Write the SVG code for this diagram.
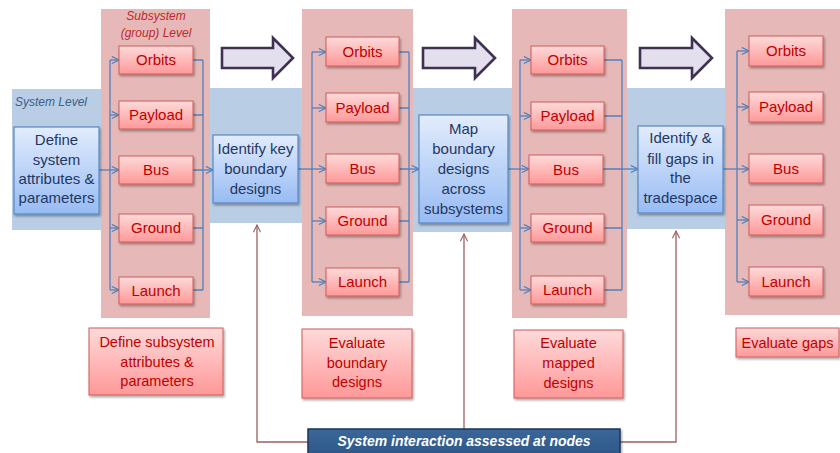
<svg xmlns="http://www.w3.org/2000/svg" width="840" height="453" viewBox="0 0 840 453">
  <defs>
    <linearGradient id="gRed" x1="0" y1="0" x2="0" y2="1">
      <stop offset="0" stop-color="#fddada"/>
      <stop offset="1" stop-color="#ff9898"/>
    </linearGradient>
    <linearGradient id="gBlue" x1="0" y1="0" x2="0" y2="1">
      <stop offset="0" stop-color="#e2ecfc"/>
      <stop offset="1" stop-color="#97bbf4"/>
    </linearGradient>
    <linearGradient id="gNavy" x1="0" y1="0" x2="0" y2="1">
      <stop offset="0" stop-color="#3a6798"/>
      <stop offset="1" stop-color="#2c5585"/>
    </linearGradient>
    <filter id="shadow" x="-10%" y="-10%" width="130%" height="140%">
      <feDropShadow dx="1.2" dy="1.8" stdDeviation="0.9" flood-color="#000" flood-opacity="0.35"/>
    </filter>
    <marker id="arrBlue" viewBox="0 0 10 10" refX="9" refY="5" markerWidth="9" markerHeight="9" markerUnits="userSpaceOnUse" orient="auto">
      <path d="M1,1 L9,5 L1,9" fill="none" stroke="#4f81bd" stroke-width="1.3"/>
    </marker>
    <marker id="arrBrown" viewBox="0 0 10 10" refX="9" refY="5" markerWidth="9" markerHeight="9" markerUnits="userSpaceOnUse" orient="auto">
      <path d="M1,1 L9,5 L1,9" fill="none" stroke="#9c5f5e" stroke-width="1.2"/>
    </marker>
    <style>
      .band { fill: #b9cde5; }
      .col { fill: #e6b9b8; }
      .sub rect { fill: url(#gRed); stroke: #cd5d5a; stroke-width: 1; filter: url(#shadow); }
      .sub text { font-family: "Liberation Sans", Arial, sans-serif; font-size: 15px; fill: #c00000; text-anchor: middle; }
      .sys rect { fill: url(#gBlue); stroke: #5b87c2; stroke-width: 1.2; filter: url(#shadow); }
      .sys text { font-family: "Liberation Sans", Arial, sans-serif; font-size: 15px; fill: #1f3864; text-anchor: middle; }
      .eval rect { fill: url(#gRed); stroke: #cd5d5a; stroke-width: 1; filter: url(#shadow); }
      .eval text { font-family: "Liberation Sans", Arial, sans-serif; font-size: 14.5px; fill: #c00000; text-anchor: middle; }
      .big { fill: #e4dfec; stroke: #3f3151; stroke-width: 2.6; stroke-linejoin: miter; }
      .flow { fill: none; stroke: #4f81bd; stroke-width: 1.3; }
      .flow .a { marker-end: url(#arrBlue); }
      .link { fill: none; stroke: #9c5f5e; stroke-width: 1.3; }
      .lvl { font-family: "Liberation Sans", Arial, sans-serif; font-style: italic; font-size: 12px; }
    </style>
  </defs>

  <rect width="840" height="453" fill="#ffffff"/>

  <!-- system level band, visible between the subsystem columns -->
  <g id="system-band">
    <rect class="band" x="12" y="89" width="90" height="141"/>
    <rect class="band" x="209" y="88" width="94" height="135"/>
    <rect class="band" x="412" y="88" width="101" height="144"/>
    <rect class="band" x="626" y="88" width="100" height="141"/>
  </g>

  <!-- subsystem columns -->
  <g id="subsystem-columns">
    <rect class="col" x="101" y="9" width="109" height="309"/>
    <rect class="col" x="302" y="9" width="111" height="307"/>
    <rect class="col" x="512" y="9" width="115" height="309"/>
    <rect class="col" x="725" y="9" width="115" height="306"/>
  </g>

  <text class="lvl" x="15" y="106" fill="#3b5f8a">System Level</text>
  <g id="subsystem-level-label" class="lvl" fill="#c0272d" text-anchor="middle">
    <text x="156" y="20">Subsystem</text>
    <text x="156" y="37">(group) Level</text>
  </g>

  <!-- stage progression arrows -->
  <g id="stage-arrows">
    <path class="big" d="M222,48 H273 V38 L293,58 L273,78 V68 H222 Z"/>
    <path class="big" d="M423,48 H475 V38 L495,58 L475,78 V68 H423 Z"/>
    <path class="big" d="M640,48 H692 V38 L712,58 L692,78 V68 H640 Z"/>
  </g>

  <!-- connectors -->
  <g id="connectors">
    <g class="flow">
      <!-- column 1 -->
      <path d="M99,170 H110"/>
      <path d="M110,60 V290"/>
      <path class="a" d="M110,60 H119"/>
      <path class="a" d="M110,115 H119"/>
      <path class="a" d="M110,170 H119"/>
      <path class="a" d="M110,228 H119"/>
      <path class="a" d="M110,290 H119"/>
      <path d="M193,60 H203 M193,115 H203 M193,170 H203 M193,228 H203 M193,290 H203"/>
      <path d="M203,60 V290"/>
      <path class="a" d="M203,170 H213"/>
      <!-- column 2 -->
      <path d="M298,169 H312"/>
      <path d="M312,52 V282"/>
      <path class="a" d="M312,52 H326"/>
      <path class="a" d="M312,108 H326"/>
      <path class="a" d="M312,169 H326"/>
      <path class="a" d="M312,221 H326"/>
      <path class="a" d="M312,282 H326"/>
      <path d="M399,52 H409 M399,108 H409 M399,169 H409 M399,221 H409 M399,282 H409"/>
      <path d="M409,52 V282"/>
      <path class="a" d="M409,169 H419"/>
      <!-- column 3 -->
      <path d="M508,169 H520"/>
      <path d="M520,60 V290"/>
      <path class="a" d="M520,60 H531"/>
      <path class="a" d="M520,116 H531"/>
      <path class="a" d="M520,169 H529"/>
      <path class="a" d="M520,228 H531"/>
      <path class="a" d="M520,290 H531"/>
      <path d="M604,60 H622 M604,116 H622 M603,169 H622 M604,228 H622 M604,290 H622"/>
      <path d="M622,60 V290"/>
      <path class="a" d="M622,169 H638"/>
      <!-- column 4 -->
      <path d="M723,169 H737"/>
      <path d="M737,51 V282"/>
      <path class="a" d="M737,51 H749"/>
      <path class="a" d="M737,107 H749"/>
      <path class="a" d="M737,169 H749"/>
      <path class="a" d="M737,220 H749"/>
      <path class="a" d="M737,282 H749"/>
    </g>
    <g class="link">
      <path d="M308,442 H257 V225" marker-end="url(#arrBrown)"/>
      <path d="M464,429 V234" marker-end="url(#arrBrown)"/>
      <path d="M620,442 H676 V231" marker-end="url(#arrBrown)"/>
    </g>
  </g>

  <!-- system level nodes -->
  <g id="define-system" class="sys">
    <rect x="14" y="127" width="85" height="87"/>
    <text x="56.5" y="145">Define</text>
    <text x="56.5" y="165">system</text>
    <text x="56.5" y="184">attributes &amp;</text>
    <text x="56.5" y="203">parameters</text>
  </g>
  <g id="identify-boundary" class="sys">
    <rect x="213" y="135" width="85" height="68"/>
    <text x="255.5" y="154">Identify key</text>
    <text x="255.5" y="174">boundary</text>
    <text x="255.5" y="194">designs</text>
  </g>
  <g id="map-boundary" class="sys">
    <rect x="419" y="115" width="89" height="108"/>
    <text x="463.5" y="134">Map</text>
    <text x="463.5" y="154">boundary</text>
    <text x="463.5" y="174">designs</text>
    <text x="463.5" y="194">across</text>
    <text x="463.5" y="214">subsystems</text>
  </g>
  <g id="fill-gaps" class="sys">
    <rect x="638" y="126" width="85" height="87"/>
    <text x="680.5" y="143">Identify &amp;</text>
    <text x="680.5" y="164">fill gaps in</text>
    <text x="680.5" y="183">the</text>
    <text x="680.5" y="203">tradespace</text>
  </g>

  <!-- subsystem nodes, column 1 -->
  <g id="c1-orbits" class="sub"><rect x="119" y="46" width="74" height="28"/><text x="156" y="65">Orbits</text></g>
  <g id="c1-payload" class="sub"><rect x="119" y="101" width="74" height="28"/><text x="156" y="120">Payload</text></g>
  <g id="c1-bus" class="sub"><rect x="119" y="156" width="74" height="28"/><text x="156" y="175">Bus</text></g>
  <g id="c1-ground" class="sub"><rect x="119" y="214" width="74" height="28"/><text x="156" y="233">Ground</text></g>
  <g id="c1-launch" class="sub"><rect x="119" y="277" width="74" height="27"/><text x="156" y="296">Launch</text></g>

  <!-- subsystem nodes, column 2 -->
  <g id="c2-orbits" class="sub"><rect x="326" y="37" width="73" height="29"/><text x="362.5" y="57">Orbits</text></g>
  <g id="c2-payload" class="sub"><rect x="326" y="93" width="73" height="29"/><text x="362.5" y="113">Payload</text></g>
  <g id="c2-bus" class="sub"><rect x="326" y="154" width="73" height="29"/><text x="362.5" y="174">Bus</text></g>
  <g id="c2-ground" class="sub"><rect x="326" y="207" width="73" height="28"/><text x="362.5" y="226">Ground</text></g>
  <g id="c2-launch" class="sub"><rect x="326" y="268" width="73" height="28"/><text x="362.5" y="287">Launch</text></g>

  <!-- subsystem nodes, column 3 -->
  <g id="c3-orbits" class="sub"><rect x="531" y="46" width="73" height="28"/><text x="567.5" y="65">Orbits</text></g>
  <g id="c3-payload" class="sub"><rect x="531" y="102" width="73" height="28"/><text x="567.5" y="121">Payload</text></g>
  <g id="c3-bus" class="sub"><rect x="529" y="155" width="74" height="29"/><text x="566" y="175">Bus</text></g>
  <g id="c3-ground" class="sub"><rect x="531" y="214" width="73" height="28"/><text x="567.5" y="233">Ground</text></g>
  <g id="c3-launch" class="sub"><rect x="531" y="276" width="73" height="28"/><text x="567.5" y="295">Launch</text></g>

  <!-- subsystem nodes, column 4 -->
  <g id="c4-orbits" class="sub"><rect x="749" y="36" width="74" height="30"/><text x="786" y="56">Orbits</text></g>
  <g id="c4-payload" class="sub"><rect x="749" y="92" width="74" height="30"/><text x="786" y="112">Payload</text></g>
  <g id="c4-bus" class="sub"><rect x="749" y="154" width="74" height="29"/><text x="786" y="174">Bus</text></g>
  <g id="c4-ground" class="sub"><rect x="749" y="205" width="74" height="30"/><text x="786" y="225">Ground</text></g>
  <g id="c4-launch" class="sub"><rect x="749" y="267" width="74" height="29"/><text x="786" y="287">Launch</text></g>

  <!-- evaluation steps -->
  <g id="define-subsystem" class="eval">
    <rect x="89" y="328" width="134" height="67"/>
    <text x="157" y="347">Define subsystem</text>
    <text x="157" y="367">attributes &amp;</text>
    <text x="157" y="386">parameters</text>
  </g>
  <g id="evaluate-boundary" class="eval">
    <rect x="302" y="329" width="110" height="69"/>
    <text x="357" y="348">Evaluate</text>
    <text x="357" y="368">boundary</text>
    <text x="357" y="387">designs</text>
  </g>
  <g id="evaluate-mapped" class="eval">
    <rect x="514" y="330" width="109" height="68"/>
    <text x="568.5" y="348">Evaluate</text>
    <text x="568.5" y="368">mapped</text>
    <text x="568.5" y="388">designs</text>
  </g>
  <g id="evaluate-gaps" class="eval">
    <rect x="736" y="328" width="103" height="29"/>
    <text x="787.5" y="348">Evaluate gaps</text>
  </g>

  <!-- interaction note -->
  <g id="system-interaction">
    <rect x="308" y="429" width="312" height="30" fill="url(#gNavy)" stroke="#1c3558" stroke-width="1.5" filter="url(#shadow)"/>
    <text x="464" y="446" font-family="Liberation Sans, Arial, sans-serif" font-size="15" font-weight="bold" font-style="italic" fill="#ffffff" text-anchor="middle" textLength="253" lengthAdjust="spacingAndGlyphs">System interaction assessed at nodes</text>
  </g>
</svg>
